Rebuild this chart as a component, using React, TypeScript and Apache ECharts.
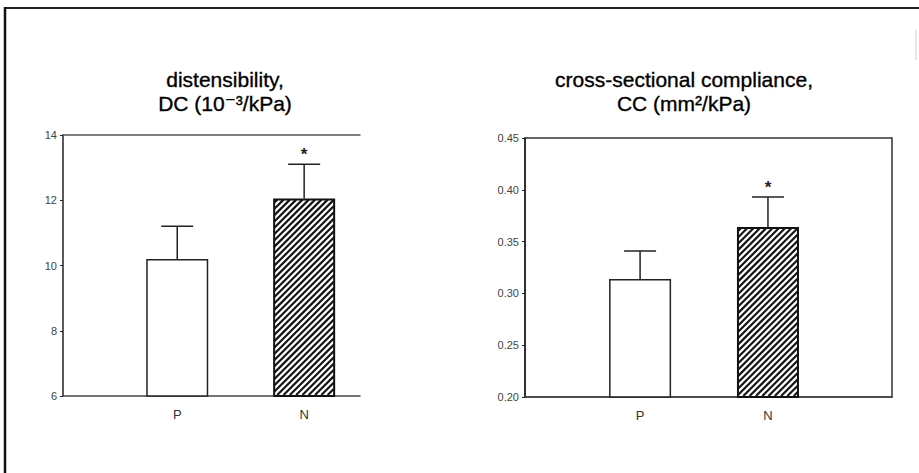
import React, { useEffect, useRef } from "react";
import * as echarts from "echarts";

const categories = ["P", "N"];
const categoryPos = [1, 2];
const dcMean = [10.2, 12.05];
const dcUpper = [11.2, 13.1];
const ccMean = [0.314, 0.364];
const ccUpper = [0.341, 0.393];
const significant = [false, true];
const hatched = [false, true];
const dcTicks = [6, 8, 10, 12, 14];
const ccTicks = [0.2, 0.25, 0.3, 0.35, 0.4, 0.45];

const FONT = "'Liberation Sans', Arial, 'DejaVu Sans', sans-serif";
const BAR_W = 62;

export default function App() {
  const ref = useRef<HTMLDivElement>(null);
  useEffect(() => {
    if (!ref.current) return;
    const chart = echarts.init(ref.current, null, { renderer: "svg" });

    const barData = (vals: number[]) =>
      vals.map((v, i) => ({
        value: [categoryPos[i], v],
        itemStyle: hatched[i]
          ? { color: "#fff", borderColor: "#111", borderWidth: 2 }
          : { color: "#fff", borderColor: "#222", borderWidth: 1.5 },
      }));

    const hatchData = (vals: number[], base: number) =>
      vals.map((v, i) => [categoryPos[i], v, base, hatched[i] ? 1 : 0]);

    const renderHatch = (params: any, api: any) => {
      if (api.value(3) !== 1) return { type: "group", children: [] };
      const x = api.value(0);
      const pTop = api.coord([x, api.value(1)]);
      const pBase = api.coord([x, api.value(2)]);
      const L = pTop[0] - BAR_W / 2 + 1;
      const R = pTop[0] + BAR_W / 2 - 1;
      const T = pTop[1] + 1;
      const B = pBase[1] - 1;
      const step = 6.3;
      const children: any[] = [];
      for (let c = L + T + step / 2; c < R + B; c += step) {
        const x1 = Math.max(L, c - B);
        const x2 = Math.min(R, c - T);
        if (x2 <= x1) continue;
        children.push({
          type: "line",
          shape: { x1, y1: c - x1, x2, y2: c - x2 },
          style: { stroke: "#151515", lineWidth: 2.2 },
          silent: true,
        });
      }
      return { type: "group", children };
    };

    const errData = (mean: number[], up: number[]) =>
      mean.map((m, i) => [categoryPos[i], m, up[i], significant[i] ? 1 : 0]);

    const renderErr = (params: any, api: any) => {
      const x = api.value(0);
      const p0 = api.coord([x, api.value(1)]);
      const p1 = api.coord([x, api.value(2)]);
      const children: any[] = [
        {
          type: "line",
          shape: { x1: p0[0], y1: p0[1], x2: p1[0], y2: p1[1] },
          style: { stroke: "#222", lineWidth: 1.5 },
        },
        {
          type: "line",
          shape: { x1: p1[0] - 16, y1: p1[1], x2: p1[0] + 16, y2: p1[1] },
          style: { stroke: "#222", lineWidth: 1.5 },
        },
      ];
      if (api.value(3) === 1) {
        children.push({
          type: "text",
          style: {
            text: "*",
            x: p1[0],
            y: p1[1] - 1,
            align: "center",
            verticalAlign: "bottom",
            fontSize: 17,
            fontWeight: "bold",
            fontFamily: FONT,
            fill: "#222",
          },
        });
      }
      return { type: "group", children };
    };

    const yLabel = (dec: number) => ({
      fontSize: 11,
      color: "#444",
      fontFamily: FONT,
      margin: 6,
      formatter: (v: number) => v.toFixed(dec),
    });

    const xLabelCommon = {
      customValues: categoryPos,
      formatter: (v: number) => categories[Math.round(v) - 1] ?? "",
      fontSize: 13,
      color: "#333",
      fontFamily: FONT,
      margin: 12,
    };

    const titleStyle = {
      align: "center",
      fontSize: 21,
      lineHeight: 24,
      fontFamily: FONT,
      fill: "#000",
      stroke: "#000",
      lineWidth: 0.35,
    };

    chart.setOption({
      animation: false,
      grid: [
        { left: 63, top: 135, width: 297, bottom: 77, show: false },
        {
          left: 525,
          top: 138,
          width: 367,
          bottom: 76,
          show: true,
          borderColor: "#333",
          borderWidth: 1.5,
          backgroundColor: "transparent",
        },
      ],
      xAxis: [
        {
          gridIndex: 0,
          type: "value",
          min: 0.1,
          max: 2.44,
          splitLine: { show: false },
          axisLine: { show: true, lineStyle: { color: "#444", width: 1.5 } },
          axisTick: { show: false },
          axisLabel: xLabelCommon,
        },
        {
          gridIndex: 0,
          type: "value",
          position: "top",
          min: 0.1,
          max: 2.44,
          splitLine: { show: false },
          axisLine: { show: true, onZero: false, lineStyle: { color: "#555", width: 1.5 } },
          axisTick: { show: false },
          axisLabel: { show: false },
        },
        {
          gridIndex: 1,
          type: "value",
          min: 0.1,
          max: 2.97,
          splitLine: { show: false },
          axisLine: { show: true, lineStyle: { color: "#444", width: 1.5 } },
          axisTick: { show: false },
          axisLabel: xLabelCommon,
        },
      ],
      yAxis: [
        {
          gridIndex: 0,
          type: "value",
          min: dcTicks[0],
          max: dcTicks[dcTicks.length - 1],
          interval: 2,
          splitLine: { show: false },
          axisLine: { show: true, lineStyle: { color: "#222", width: 1.5 } },
          axisTick: { show: true, length: 3, lineStyle: { color: "#222" } },
          axisLabel: yLabel(0),
        },
        {
          gridIndex: 1,
          type: "value",
          min: ccTicks[0],
          max: ccTicks[ccTicks.length - 1],
          interval: 0.05,
          splitLine: { show: false },
          axisLine: { show: true, lineStyle: { color: "#222", width: 1.5 } },
          axisTick: { show: true, length: 3, lineStyle: { color: "#222" } },
          axisLabel: yLabel(2),
        },
      ],
      series: [
        {
          type: "bar",
          xAxisIndex: 0,
          yAxisIndex: 0,
          barWidth: BAR_W,
          data: barData(dcMean),
        },
        {
          type: "custom",
          xAxisIndex: 0,
          yAxisIndex: 0,
          renderItem: renderHatch,
          data: hatchData(dcMean, dcTicks[0]),
          z: 4,
        },
        {
          type: "custom",
          xAxisIndex: 0,
          yAxisIndex: 0,
          renderItem: renderErr,
          data: errData(dcMean, dcUpper),
          z: 5,
        },
        {
          type: "bar",
          xAxisIndex: 2,
          yAxisIndex: 1,
          barWidth: BAR_W,
          data: barData(ccMean),
        },
        {
          type: "custom",
          xAxisIndex: 2,
          yAxisIndex: 1,
          renderItem: renderHatch,
          data: hatchData(ccMean, ccTicks[0]),
          z: 4,
        },
        {
          type: "custom",
          xAxisIndex: 2,
          yAxisIndex: 1,
          renderItem: renderErr,
          data: errData(ccMean, ccUpper),
          z: 5,
        },
      ],
      graphic: [
        {
          type: "line",
          shape: { x1: 5, y1: 8, x2: 919, y2: 8 },
          style: { stroke: "#222", lineWidth: 2 },
        },
        {
          type: "line",
          shape: { x1: 5, y1: 7, x2: 5, y2: 473 },
          style: { stroke: "#111", lineWidth: 2.5 },
        },
        {
          type: "line",
          shape: { x1: 916, y1: 30, x2: 916, y2: 60 },
          style: { stroke: "#ccc", lineWidth: 1 },
        },
        {
          type: "text",
          x: 225,
          y: 67,
          style: { ...titleStyle, text: "distensibility,\nDC (10⁻³/kPa)" },
        },
        {
          type: "text",
          x: 684,
          y: 67,
          style: { ...titleStyle, text: "cross-sectional compliance,\nCC (mm²/kPa)" },
        },
      ],
    });
    return () => chart.dispose();
  }, []);
  return (
    <div
      ref={ref}
      style={{ position: "fixed", left: 0, top: 0, width: 919, height: 473, background: "#fff" }}
    />
  );
}
